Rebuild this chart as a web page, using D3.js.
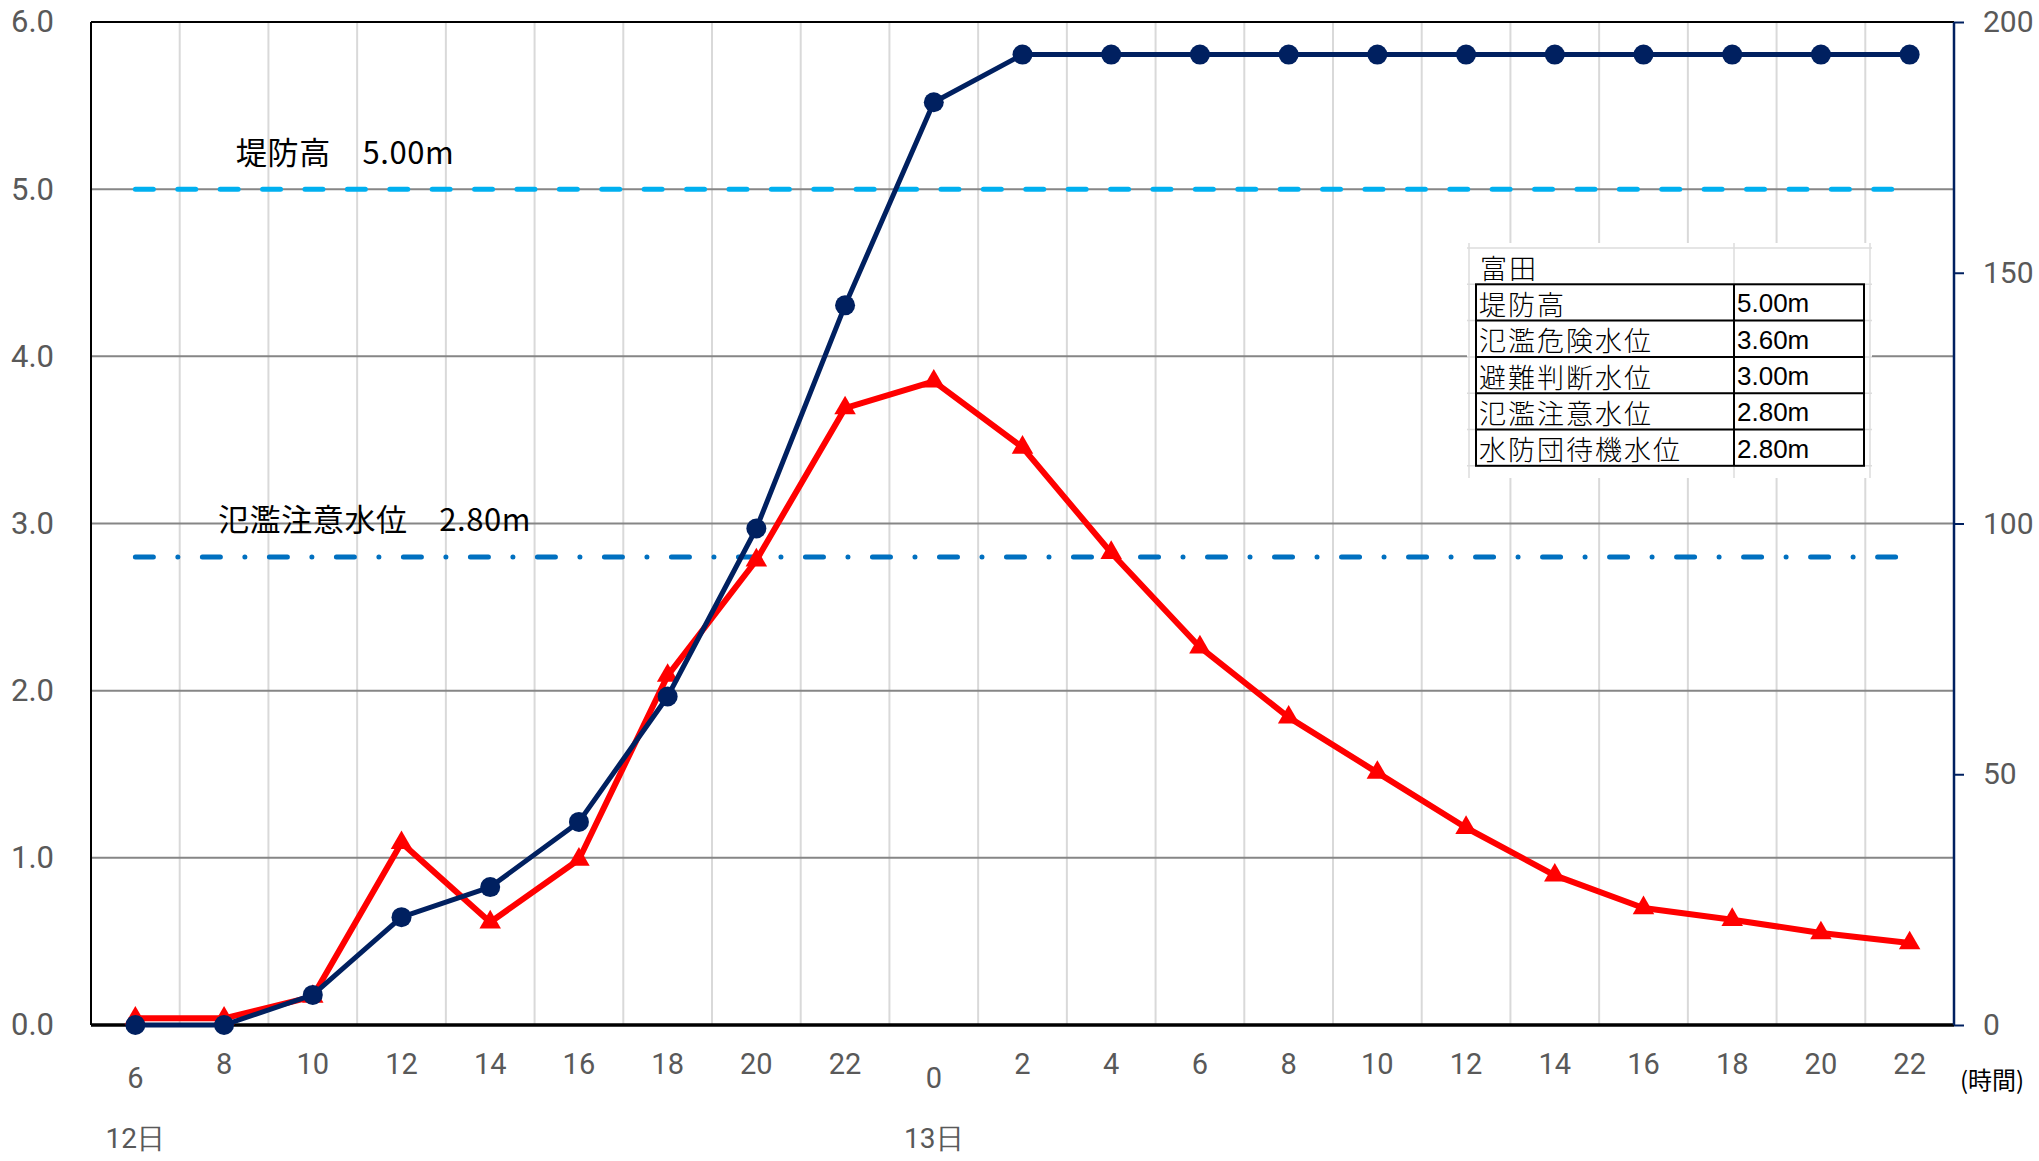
<!DOCTYPE html>
<html>
<head>
<meta charset="utf-8">
<script src="https://cdn.jsdelivr.net/npm/d3@7"></script>
<style>
  html, body { margin: 0; padding: 0; background: #fff; }
  svg { display: block; }
</style>
</head>
<body>
<svg id="chart" width="2039" height="1161"></svg>
<script>
// ---- data ----
const hours = ["6","8","10","12","14","16","18","20","22","0","2","4","6","8","10","12","14","16","18","20","22"];
const dayLabels = ["12日","13日"];
const dayIndex = [0, 9];
const rainfall = [0, 0, 6, 21.5, 27.5, 40.5, 65.5, 99, 143.5, 184, 193.5, 193.5, 193.5, 193.5, 193.5, 193.5, 193.5, 193.5, 193.5, 193.5, 193.5];
const waterLevel = [0.04, 0.04, 0.17, 1.09, 0.615, 0.99, 2.09, 2.78, 3.69, 3.85, 3.455, 2.825, 2.26, 1.84, 1.51, 1.18, 0.895, 0.70, 0.63, 0.55, 0.49];
const leftTicks = [0, 1, 2, 3, 4, 5, 6];
const rightTicks = [0, 50, 100, 150, 200];
const thresholdValues = [5.0, 2.8];
const thresholdLabels = ["堤防高　5.00m", "氾濫注意水位　2.80m"];
const stationName = "富田";
const tableLabels = ["堤防高", "氾濫危険水位", "避難判断水位", "氾濫注意水位", "水防団待機水位"];
const tableValues = ["5.00m", "3.60m", "3.00m", "2.80m", "2.80m"];
const unitLabel = "(時間)";

// ---- layout ----
const L = 91, R = 1954, T = 22, B = 1025;
const svg = d3.select("#chart");
const idx = hours.map((_, i) => i);
const x = d3.scaleBand().domain(idx).range([L, R]).padding(0);
const xc = i => x(i) + x.bandwidth() / 2;
const y = d3.scaleLinear().domain([0, 6]).range([B, T]);
const y2 = d3.scaleLinear().domain([0, 200]).range([B, T]);

const tickFont = "Roboto, 'Liberation Sans', sans-serif";
const jpFont = "'Noto Sans CJK JP', sans-serif";

// vertical gridlines (band boundaries)
svg.append("g").selectAll("line").data(idx.slice(1)).join("line")
  .attr("x1", d => x(d)).attr("x2", d => x(d))
  .attr("y1", T).attr("y2", B)
  .attr("stroke", "#d9d9d9").attr("stroke-width", 2);

// horizontal gridlines
svg.append("g").selectAll("line").data(leftTicks.slice(1, -1)).join("line")
  .attr("x1", L).attr("x2", R)
  .attr("y1", d => y(d)).attr("y2", d => y(d))
  .attr("stroke", "#868686").attr("stroke-width", 2);

// info table background
const tb = svg.append("g");
const tX0 = 1469, tX1 = 1734, tX2 = 1870, tY0 = 248, rowH = 36.3;
tb.append("rect").attr("x", tX0 - 2).attr("y", 243).attr("width", tX2 - tX0 + 4).attr("height", 235).attr("fill", "#fff");
const rowYs = d3.range(tableLabels.length + 2).map(i => tY0 + i * rowH);
tb.selectAll("line.h").data(rowYs).join("line").attr("class", "h")
  .attr("x1", tX0 - 2).attr("x2", tX2 + 2).attr("y1", d => d).attr("y2", d => d)
  .attr("stroke", "#dcdcdc").attr("stroke-width", 1.5);
tb.selectAll("line.v").data([tX0, tX1, tX2]).join("line").attr("class", "v")
  .attr("x1", d => d).attr("x2", d => d).attr("y1", 243).attr("y2", 478)
  .attr("stroke", "#dcdcdc").attr("stroke-width", 1.5);
const boxL = 1476, boxR = 1864, boxT = tY0 + rowH, boxB = tY0 + rowH * (tableLabels.length + 1);
tb.append("rect").attr("x", boxL).attr("y", boxT).attr("width", boxR - boxL).attr("height", boxB - boxT)
  .attr("fill", "none").attr("stroke", "#000").attr("stroke-width", 2);
tb.selectAll("line.r").data(d3.range(1, tableLabels.length)).join("line").attr("class", "r")
  .attr("x1", boxL).attr("x2", boxR).attr("y1", d => boxT + d * rowH).attr("y2", d => boxT + d * rowH)
  .attr("stroke", "#000").attr("stroke-width", 2);
tb.append("line").attr("x1", tX1).attr("x2", tX1).attr("y1", boxT).attr("y2", boxB)
  .attr("stroke", "#000").attr("stroke-width", 2);
tb.append("text").attr("x", 1480).attr("y", tY0 + rowH / 2 + 1).attr("dominant-baseline", "central")
  .attr("font-family", jpFont).attr("font-size", 27).attr("font-weight", 300).attr("letter-spacing", 2)
  .attr("fill", "#000").text(stationName);
tb.selectAll("text.lab").data(tableLabels).join("text").attr("class", "lab")
  .attr("x", 1479).attr("y", (d, i) => boxT + i * rowH + rowH / 2 + 1).attr("dominant-baseline", "central")
  .attr("font-family", jpFont).attr("font-size", 27).attr("font-weight", 300).attr("letter-spacing", 2)
  .attr("fill", "#000").text(d => d);
tb.selectAll("text.val").data(tableValues).join("text").attr("class", "val")
  .attr("x", 1737).attr("y", (d, i) => boxT + i * rowH + rowH / 2 + 1).attr("dominant-baseline", "central")
  .attr("font-family", "'Liberation Sans', sans-serif").attr("font-size", 26).attr("fill", "#000").text(d => d);

// threshold lines
const thrStyles = [
  { color: "#00b0f0", dash: "18,24.4" },
  { color: "#0070c0", dash: "18,24.5,0.01,24.5" }
];
svg.append("g").selectAll("line").data(thresholdValues).join("line")
  .attr("x1", xc(0)).attr("x2", xc(idx.length - 1))
  .attr("y1", d => y(d)).attr("y2", d => y(d))
  .attr("stroke", (d, i) => thrStyles[i].color)
  .attr("stroke-width", 5).attr("stroke-linecap", "round")
  .attr("stroke-dasharray", (d, i) => thrStyles[i].dash);
const thrLabelX = [236, 218];
svg.append("g").selectAll("text").data(thresholdLabels).join("text")
  .attr("x", (d, i) => thrLabelX[i]).attr("y", (d, i) => y(thresholdValues[i]) - 39)
  .attr("dominant-baseline", "central")
  .attr("font-family", jpFont).attr("font-size", 31).attr("letter-spacing", 0.6)
  .attr("fill", "#000").text(d => d);

// axes frame
svg.append("line").attr("x1", L).attr("x2", R).attr("y1", T).attr("y2", T).attr("stroke", "#000").attr("stroke-width", 2);
svg.append("line").attr("x1", L).attr("x2", L).attr("y1", T).attr("y2", B).attr("stroke", "#000").attr("stroke-width", 2);
svg.append("line").attr("x1", L).attr("x2", R).attr("y1", B).attr("y2", B).attr("stroke", "#000").attr("stroke-width", 3.5);

// right axis
const rAxis = svg.append("g").attr("transform", `translate(${R},0)`)
  .call(d3.axisRight(y2).tickValues(rightTicks).tickSize(10).tickPadding(19).tickFormat(d3.format("d")));
rAxis.select(".domain").attr("stroke", "#002060").attr("stroke-width", 2.5).attr("d", `M0,${T}V${B}`);
rAxis.selectAll(".tick line").attr("stroke", "#002060").attr("stroke-width", 2);
rAxis.selectAll(".tick text").attr("fill", "#595959").attr("font-family", tickFont).attr("font-size", 30);

// left axis labels
const lAxis = svg.append("g").attr("transform", `translate(${L},0)`)
  .call(d3.axisLeft(y).tickValues(leftTicks).tickSize(0).tickPadding(37).tickFormat(d3.format(".1f")));
lAxis.select(".domain").remove();
lAxis.selectAll(".tick text").attr("fill", "#595959").attr("font-family", tickFont).attr("font-size", 31);

// x labels
svg.append("g").selectAll("text").data(hours).join("text")
  .attr("x", (d, i) => xc(i))
  .attr("y", (d, i) => dayIndex.includes(i) ? 1078 : 1064)
  .attr("text-anchor", "middle").attr("dominant-baseline", "central")
  .attr("fill", "#595959").attr("font-family", tickFont).attr("font-size", 29).text(d => d);
svg.append("g").selectAll("text").data(dayLabels).join("text")
  .attr("x", (d, i) => xc(dayIndex[i]))
  .attr("y", 1138)
  .attr("text-anchor", "middle").attr("dominant-baseline", "central")
  .attr("fill", "#595959").attr("font-family", tickFont).attr("font-size", 28).text(d => d);
svg.append("text").attr("x", 1992).attr("y", 1078)
  .attr("text-anchor", "middle").attr("dominant-baseline", "central")
  .attr("fill", "#000").attr("font-family", jpFont).attr("font-size", 24).text(unitLabel);

// red water level series
const redLine = d3.line().x((d, i) => xc(i)).y(d => y(d));
svg.append("path").datum(waterLevel).attr("d", redLine)
  .attr("fill", "none").attr("stroke", "#ff0000").attr("stroke-width", 6).attr("stroke-linejoin", "round");
const tri = d3.symbol().type(d3.symbolTriangle).size(200);
svg.append("g").selectAll("path").data(waterLevel).join("path")
  .attr("d", tri)
  .attr("transform", (d, i) => `translate(${xc(i)},${y(d)})`)
  .attr("fill", "#ff0000");

// navy rainfall series
const navyLine = d3.line().x((d, i) => xc(i)).y(d => y2(d));
svg.append("path").datum(rainfall).attr("d", navyLine)
  .attr("fill", "none").attr("stroke", "#002060").attr("stroke-width", 5).attr("stroke-linejoin", "round");
svg.append("g").selectAll("circle").data(rainfall).join("circle")
  .attr("cx", (d, i) => xc(i)).attr("cy", d => y2(d)).attr("r", 10)
  .attr("fill", "#002060");
</script>
</body>
</html>
